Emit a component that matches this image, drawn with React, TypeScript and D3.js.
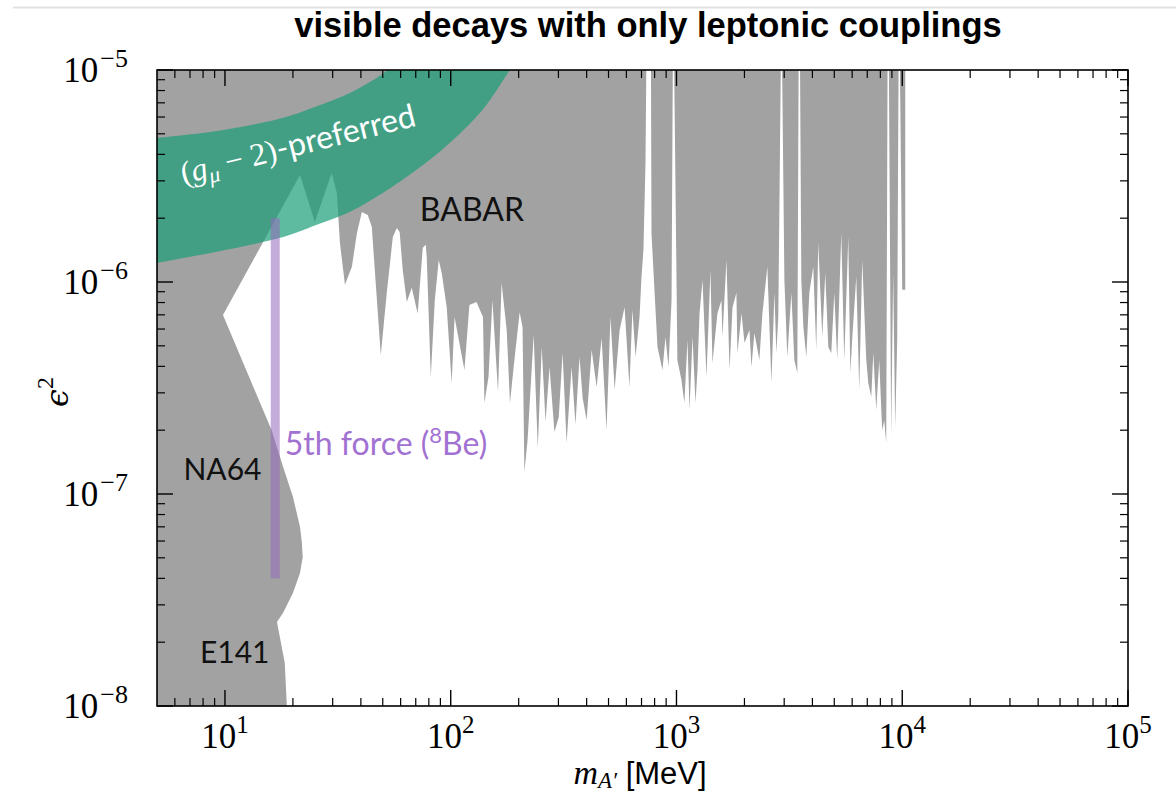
import React from "react";
import * as d3 from "d3";

const WIDTH = 1176;
const HEIGHT = 795;
const PLOT = { left: 157, right: 1128, top: 70, bottom: 706 };

const TITLE = "visible decays with only leptonic couplings";
const X_DOMAIN: [number, number] = [5, 1e5];
const Y_DOMAIN: [number, number] = [1e-8, 1e-5];
const X_MAJOR = [10, 100, 1000, 10000, 100000];
const X_EXP = ["1", "2", "3", "4", "5"];
const Y_MAJOR = [1e-8, 1e-7, 1e-6, 1e-5];
const Y_EXP = ["−8", "−7", "−6", "−5"];

type Pt = [number, number];

// E141 beam-dump edge (mass MeV, eps^2)
const E141: Pt[] = [
  [18.8, 1e-8],
  [18.4, 1.6e-8],
  [17.0, 2.49e-8],
];

// NA64 edge
const NA64: Pt[] = [
  [17.0, 2.49e-8],
  [18.1, 2.75e-8],
  [20.0, 3.41e-8],
  [21.5, 4.24e-8],
  [22.1, 5.05e-8],
  [21.9, 5.94e-8],
  [21.5, 6.98e-8],
  [20.0, 9.7e-8],
  [18.1, 1.34e-7],
  [16.1, 2.0e-7],
  [9.8, 6.98e-7],
];

// prompt low-mass edge up to BABAR onset
const LOW_MASS_EDGE: Pt[] = [
  [9.8, 6.98e-7],
  [21.5, 3.2e-6],
];

// BABAR lower edge
const BABAR: Pt[] = [
  [21.5, 3.2e-6], [25.0, 1.92e-6], [29.7, 3.27e-6], [31.3, 2.63e-6], [32.3, 1.53e-6],
  [34.0, 9.7e-7], [36.5, 1.18e-6], [38.4, 1.7e-6], [40.4, 2.14e-6], [42.9, 2.07e-6],
  [44.7, 1.82e-6], [49.0, 4.53e-7], [52.1, 8.9e-7], [55.4, 1.63e-6], [57.7, 1.8e-6],
  [59.4, 1.72e-6], [61.3, 1.14e-6], [63.9, 8.05e-7], [67.2, 9.4e-7], [71.4, 7.1e-7],
  [75.2, 1.45e-6], [77.5, 1.5e-6], [78.3, 1.31e-6], [81.6, 3.56e-7], [85.0, 8.2e-7],
  [88.5, 1.27e-6], [91.3, 1.1e-6], [93.1, 9.5e-7], [96.0, 7.6e-7], [101, 3.34e-7],
  [104, 6.84e-7], [115, 3.85e-7], [121, 7.8e-7], [130, 8.05e-7], [139, 6.84e-7],
  [141, 2.69e-7], [147, 3.56e-7], [153, 8.2e-7], [162, 3.03e-7], [168, 9.9e-7],
  [177, 5.94e-7], [183, 2.69e-7], [190, 3.97e-7], [202, 7.2e-7], [208, 6.13e-7],
  [212, 1.27e-7], [219, 1.8e-7], [233, 5.62e-7], [243, 1.65e-7], [253, 4.93e-7],
  [263, 2.19e-7], [274, 3.97e-7], [288, 1.96e-7], [301, 2.31e-7], [313, 4.62e-7],
  [326, 1.74e-7], [343, 3.97e-7], [357, 2.12e-7], [372, 4.43e-7], [384, 2.84e-7],
  [400, 2.23e-7], [421, 4.78e-7], [443, 3.2e-7], [466, 5.45e-7], [490, 2.0e-7],
  [510, 6.84e-7], [532, 3.1e-7], [560, 5.94e-7], [589, 7.6e-7], [619, 3.2e-7],
  [638, 7.4e-7], [659, 4.43e-7], [686, 6.84e-7], [700, 1.06e-6], [714, 1.42e-6],
  [729, 3.64e-6], [735, 1e-5], [771, 1e-5], [775, 1.7e-6], [800, 8.9e-7],
  [824, 4.93e-7], [867, 3.85e-7], [894, 5.5e-7], [922, 3.97e-7], [951, 8.2e-7],
  [963, 1e-5], [977, 1e-5], [1000, 1.06e-6], [1009, 4.29e-7], [1052, 3.45e-7],
  [1084, 2.69e-7], [1119, 5.33e-7], [1142, 2.49e-7], [1178, 5.5e-7], [1214, 2.69e-7],
  [1239, 3.85e-7], [1265, 7.1e-7], [1304, 1.02e-6], [1358, 3.56e-7], [1414, 1.14e-6],
  [1443, 4.15e-7], [1518, 7.1e-7], [1582, 8.2e-7], [1598, 5.5e-7], [1665, 1.27e-6],
  [1718, 3.85e-7], [1771, 7.6e-7], [1843, 8.9e-7], [1862, 4.62e-7], [1941, 7.1e-7],
  [2001, 5.15e-7], [2105, 5.94e-7], [2148, 3.97e-7], [2214, 5.75e-7], [2329, 4.29e-7],
  [2402, 7.1e-7], [2527, 1.18e-6], [2633, 3.34e-7], [2715, 8.9e-7], [2770, 4.62e-7],
  [2825, 6.84e-7], [2897, 1e-5], [2938, 1e-5], [3006, 1.02e-6], [3097, 4.43e-7],
  [3228, 8.9e-7], [3327, 4.29e-7], [3430, 3.72e-7], [3475, 1e-5], [3527, 1e-5],
  [3573, 1.02e-6], [3648, 6.13e-7], [3760, 4.43e-7], [3876, 8.9e-7], [4036, 1.18e-6],
  [4160, 4.78e-7], [4246, 1.53e-6], [4424, 5.5e-7], [4560, 1.1e-6], [4705, 4.93e-7],
  [4850, 4.62e-7], [5000, 8.9e-7], [5153, 4.29e-7], [5370, 1.7e-6], [5535, 4.29e-7],
  [5768, 1.63e-6], [5888, 3.72e-7], [6011, 5.5e-7], [6258, 1.06e-6], [6450, 3.1e-7],
  [6650, 1.27e-6], [6929, 4.29e-7], [7073, 3.34e-7], [7291, 2.87e-7], [7443, 4.62e-7],
  [7672, 2.49e-7], [7908, 4.29e-7], [8151, 2.0e-7], [8321, 2.23e-7], [8494, 1.74e-7],
  [8608, 1e-5], [8730, 1e-5], [8931, 1.86e-7], [9116, 1.1e-6], [9306, 2.07e-7],
  [9500, 5.33e-7], [9630, 1e-5], [9770, 1e-5], [10000, 9.2e-7], [10310, 9.2e-7],
];

// (g_mu - 2)-preferred band edges
const G2_UPPER: Pt[] = [
  [5, 4.78e-6], [9.2, 5.15e-6], [18.1, 5.95e-6], [25.5, 6.75e-6], [35.7, 7.8e-6],
  [50, 9.6e-6], [70, 1.3e-5],
];
const G2_LOWER: Pt[] = [
  [5, 1.23e-6], [9.2, 1.39e-6], [18.1, 1.63e-6], [25.5, 1.86e-6], [35.7, 2.14e-6],
  [50, 2.63e-6], [70.6, 3.38e-6], [98.9, 4.53e-6], [138.6, 6.5e-6], [183, 1.0e-5],
  [230, 1.4e-5],
];

// 8Be 5th force (X17)
const X17_MASS = 16.7;
const X17_EPS2: [number, number] = [4e-8, 2e-6];

const LABELS = [
  { text: "BABAR", m: 73, e: 1.95e-6 },
  { text: "NA64", m: 6.55, e: 1.16e-7 },
  { text: "E141", m: 7.75, e: 1.6e-8 },
];

const SERIF = "'Liberation Serif', 'Times New Roman', serif";
const SANS = "Lato, 'Open Sans', sans-serif";
const HELV = "'Liberation Sans', Arial, sans-serif";

export default function App() {
  const x = d3.scaleLog().domain(X_DOMAIN).range([PLOT.left, PLOT.right]);
  const y = d3.scaleLog().domain(Y_DOMAIN).range([PLOT.bottom, PLOT.top]);

  const lin = d3
    .line<Pt>()
    .x((d) => x(d[0]))
    .y((d) => y(d[1]));
  const smooth = d3
    .line<Pt>()
    .x((d) => x(d[0]))
    .y((d) => y(d[1]))
    .curve(d3.curveCatmullRom.alpha(0.5));

  const lastMass = BABAR[BABAR.length - 1][0];
  const excluded: Pt[] = [
    [X_DOMAIN[0], Y_DOMAIN[0]],
    ...E141,
    ...NA64.slice(1),
    ...LOW_MASS_EDGE.slice(1),
    ...BABAR.slice(1),
    [lastMass, Y_DOMAIN[1]],
    [X_DOMAIN[0], Y_DOMAIN[1]],
  ];
  const excludedPath = lin(excluded) + "Z";

  const bandPath =
    (smooth(G2_UPPER) as string) +
    (smooth([...G2_LOWER].reverse()) as string).replace(/^M/, "L") +
    "Z";

  const xMinor: number[] = [];
  for (let k = 0; k <= 4; k++) {
    for (let j = 2; j <= 9; j++) {
      const v = j * Math.pow(10, k);
      if (v > X_DOMAIN[0] && v < X_DOMAIN[1]) xMinor.push(v);
    }
  }
  const yMinor: number[] = [];
  for (let k = -8; k <= -6; k++) {
    for (let j = 2; j <= 9; j++) yMinor.push(j * Math.pow(10, k));
  }

  const MAJ = 16;
  const MIN = 8;

  return (
    <svg
      width={WIDTH}
      height={HEIGHT}
      style={{ position: "absolute", left: 0, top: 0, background: "white" }}
    >
      <defs>
        <clipPath id="plotClip">
          <rect
            x={PLOT.left}
            y={PLOT.top}
            width={PLOT.right - PLOT.left}
            height={PLOT.bottom - PLOT.top}
          />
        </clipPath>
      </defs>
      <rect width={WIDTH} height={HEIGHT} fill="white" />
      <line x1={13} x2={WIDTH} y1={7.5} y2={7.5} stroke="#e2e2e2" strokeWidth={2} />

      <g clipPath="url(#plotClip)">
        <path d={excludedPath} fill="#a2a2a2" />
        <path d={bandPath} fill="#1b9e77" fillOpacity={0.7} />
        <line
          x1={x(X17_MASS)}
          x2={x(X17_MASS)}
          y1={y(X17_EPS2[0])}
          y2={y(X17_EPS2[1])}
          stroke="#9467bd"
          strokeOpacity={0.55}
          strokeWidth={9}
        />
      </g>

      {LABELS.map((l) => (
        <text
          key={l.text}
          x={x(l.m)}
          y={y(l.e)}
          fontFamily={SANS}
          fontSize={l.text === "BABAR" ? 32 : 30}
          fill="#111"
        >
          {l.text}
        </text>
      ))}
      <text x={x(18.4)} y={y(1.52e-7)} fontFamily={SANS} fontSize={32} fill="#a272d2">
        5th force (
        <tspan dy={-12} fontSize={22}>
          8
        </tspan>
        <tspan dy={12}>Be)</tspan>
      </text>
      <text
        transform={`translate(${x(6.55)},${y(2.9e-6)}) rotate(-14)`}
        fill="white"
        fontSize={32}
      >
        <tspan fontFamily={SERIF}>(</tspan>
        <tspan fontFamily={SERIF} fontStyle="italic">
          g
        </tspan>
        <tspan fontFamily={SERIF} fontStyle="italic" fontSize={22} dy={6}>
          μ
        </tspan>
        <tspan fontFamily={SERIF} dy={-6}>
          {" − 2)"}
        </tspan>
        <tspan fontFamily={SANS}>-preferred</tspan>
      </text>

      {/* frame */}
      <rect
        x={PLOT.left}
        y={PLOT.top}
        width={PLOT.right - PLOT.left}
        height={PLOT.bottom - PLOT.top}
        fill="none"
        stroke="#000"
        strokeWidth={1.6}
      />
      {/* x ticks */}
      {X_MAJOR.map((v) => (
        <g key={"xM" + v}>
          <line x1={x(v)} x2={x(v)} y1={PLOT.bottom} y2={PLOT.bottom - MAJ} stroke="#000" strokeWidth={1.4} />
          <line x1={x(v)} x2={x(v)} y1={PLOT.top} y2={PLOT.top + MAJ} stroke="#000" strokeWidth={1.4} />
        </g>
      ))}
      {xMinor.map((v) => (
        <g key={"xm" + v}>
          <line x1={x(v)} x2={x(v)} y1={PLOT.bottom} y2={PLOT.bottom - MIN} stroke="#000" strokeWidth={1.2} />
          <line x1={x(v)} x2={x(v)} y1={PLOT.top} y2={PLOT.top + MIN} stroke="#000" strokeWidth={1.2} />
        </g>
      ))}
      {Y_MAJOR.map((v) => (
        <g key={"yM" + v}>
          <line x1={PLOT.left} x2={PLOT.left + MAJ} y1={y(v)} y2={y(v)} stroke="#000" strokeWidth={1.4} />
          <line x1={PLOT.right} x2={PLOT.right - MAJ} y1={y(v)} y2={y(v)} stroke="#000" strokeWidth={1.4} />
        </g>
      ))}
      {yMinor.map((v) => (
        <g key={"ym" + v}>
          <line x1={PLOT.left} x2={PLOT.left + MIN} y1={y(v)} y2={y(v)} stroke="#000" strokeWidth={1.2} />
          <line x1={PLOT.right} x2={PLOT.right - MIN} y1={y(v)} y2={y(v)} stroke="#000" strokeWidth={1.2} />
        </g>
      ))}

      {/* tick labels */}
      {X_MAJOR.map((v, i) => (
        <text key={"xl" + v} x={x(v)} y={748} textAnchor="middle" fontFamily={SERIF} fontSize={35} fill="#000">
          10
          <tspan dy={-15} fontSize={25}>
            {X_EXP[i]}
          </tspan>
        </text>
      ))}
      {Y_MAJOR.map((v, i) => (
        <text key={"yl" + v} x={128} y={y(v) + 12} textAnchor="end" fontFamily={SERIF} fontSize={35} fill="#000">
          10
          <tspan dy={-15} dx={2} fontSize={26}>
            {Y_EXP[i]}
          </tspan>
        </text>
      ))}

      {/* axis labels */}
      <text x={640} y={784} textAnchor="middle" fill="#000">
        <tspan fontFamily={SERIF} fontStyle="italic" fontSize={34}>
          m
        </tspan>
        <tspan fontFamily={SERIF} fontStyle="italic" fontSize={23} dy={4}>
          A′
        </tspan>
        <tspan fontFamily={HELV} fontSize={31} dy={-4}>
          {" [MeV]"}
        </tspan>
      </text>
      <text transform="translate(68,392) rotate(-90)" textAnchor="middle" fill="#000">
        <tspan fontFamily="'DejaVu Serif', serif" fontStyle="italic" fontSize={32}>
          ϵ
        </tspan>
        <tspan fontFamily={SERIF} fontSize={24} dy={-15}>
          2
        </tspan>
      </text>

      <text
        x={648}
        y={37}
        textAnchor="middle"
        fontFamily={HELV}
        fontWeight="bold"
        fontSize={34.5}
        fill="#000"
      >
        {TITLE}
      </text>
    </svg>
  );
}
